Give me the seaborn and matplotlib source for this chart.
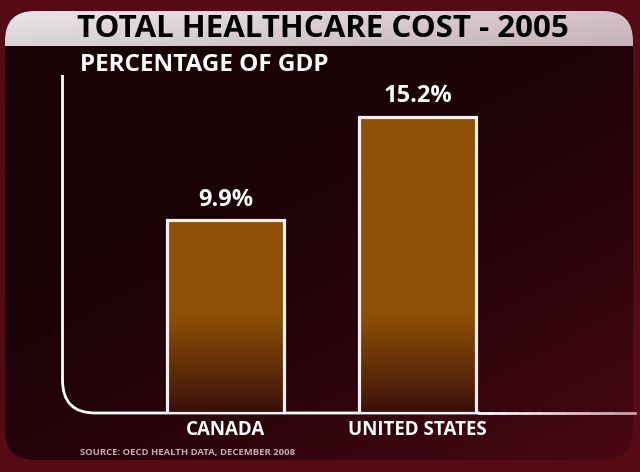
import numpy as np
import pandas as pd
import seaborn as sns
import matplotlib.pyplot as plt
from matplotlib.patches import FancyBboxPatch
from matplotlib.path import Path
from matplotlib.patches import PathPatch
from matplotlib.collections import LineCollection

# data
countries = ["CANADA", "UNITED STATES"]
pct_gdp = [9.9, 15.2]
title = "TOTAL HEALTHCARE COST - 2005"
subtitle = "PERCENTAGE OF GDP"
source = "SOURCE: OECD HEALTH DATA, DECEMBER 2008"

sns.set_style("white")
plt.rcParams["font.family"] = ["Open Sans", "DejaVu Sans"]

df = pd.DataFrame({"country": countries, "pct": pct_gdp})

fig = plt.figure(figsize=(6.4, 4.72), dpi=100)
fig.patch.set_facecolor("#550a16")

# background layer in pixel coordinates
bg = fig.add_axes([0, 0, 1, 1], zorder=0)
bg.set_xlim(0, 640)
bg.set_ylim(472, 0)
bg.axis("off")

panel = FancyBboxPatch((5, 11), 628, 449, boxstyle="round,pad=0,rounding_size=30",
                       facecolor="none", edgecolor="none")
bg.add_patch(panel)

# dark maroon panel, lighter towards bottom right
gx, gy = np.meshgrid(np.linspace(0, 1, 200), np.linspace(0, 1, 150))
t = np.clip((gx * 0.55 + gy * 0.75) - 0.35, 0, 1) ** 1.6
dark = np.array([24, 2, 6]) / 255
light = np.array([78, 8, 20]) / 255
img = dark + t[..., None] * (light - dark)
im = bg.imshow(img, extent=(5, 633, 460, 11), aspect="auto", zorder=1)
im.set_clip_path(panel)

# light title band at the top of the panel
bx = np.linspace(0, 1, 200)
by = np.linspace(0, 1, 30)
BX, BY = np.meshgrid(bx, by)
top_l = np.array([236, 230, 232]) / 255
top_r = np.array([214, 194, 199]) / 255
band = top_l + BX[..., None] * (top_r - top_l)
band = band * (1 - 0.08 * BY[..., None])
imb = bg.imshow(band, extent=(5, 633, 46, 11), aspect="auto", zorder=2)
imb.set_clip_path(panel)

bg.text(323, 29, title, ha="center", va="center", fontsize=22.5,
        fontweight="bold", color="black", zorder=5)
bg.text(80, 65, subtitle, ha="left", va="center", fontsize=17.5,
        fontweight="bold", color="white", zorder=5)
bg.text(80, 453, source, ha="left", va="center", fontsize=6.8,
        fontweight="bold", color="#c9aab0", zorder=5)

# curved axis line
verts = [(62.5, 75), (62.5, 380), (62.5, 413), (95, 413), (480, 413)]
codes = [Path.MOVETO, Path.LINETO, Path.CURVE3, Path.CURVE3, Path.LINETO]
bg.add_patch(PathPatch(Path(verts, codes), facecolor="none", edgecolor="white",
                       lw=2.0, zorder=4, capstyle="butt"))
xs = np.linspace(479, 635, 14)
segs = [[(xs[i], 413), (xs[i + 1], 413)] for i in range(len(xs) - 1)]
fade = np.linspace(0, 1, len(segs))[:, None]
cols = np.array([1, 1, 1]) + fade * (np.array([200, 160, 168]) / 255 - 1)
bg.add_collection(LineCollection(segs, colors=cols, lw=2.0, zorder=4,
                                 capstyle="projecting"))

# chart axes
ax = fig.add_axes([62 / 640, (472 - 413) / 472, (635 - 62) / 640, (413 - 75) / 472], zorder=2)
ax.patch.set_alpha(0)
sns.barplot(data=df, x="country", y="pct", width=0.61, ax=ax,
            color="#8c4e05", edgecolor="#f4f0f0", linewidth=2.3)
ymax = (413 - 75) / 19.5

# vertical orange-to-dark gradient inside bars
yy = np.linspace(0, ymax, 300)[:, None]
tt = np.clip(yy / 5.0, 0, 1) ** 0.9
orange = np.array([142, 80, 5]) / 255
bot = np.array([55, 13, 12]) / 255
grad = bot + tt[..., None] * (orange - bot)
grad = np.repeat(grad, 2, axis=1)
for p in ax.patches:
    p.set_facecolor("none")
    p.set_zorder(3)
    gi = ax.imshow(grad, extent=(-0.852, 2.133, 0, ymax), origin="lower",
                   aspect="auto", zorder=2)
    gi.set_clip_path(p)

ax.set_xlim(-0.852, 2.133)
ax.set_ylim(0, ymax)

ax.bar_label(ax.containers[0], labels=[f"{v:.1f}%" for v in pct_gdp], padding=6,
             fontsize=17, fontweight="bold", color="white")

for s in ax.spines.values():
    s.set_visible(False)
ax.set_xlabel("")
ax.set_ylabel("")
ax.set_yticks([])
ax.tick_params(axis="x", length=0, pad=5, labelsize=13.5, labelcolor="white")
for lbl in ax.get_xticklabels():
    lbl.set_fontweight("bold")

fig.savefig("out.png", dpi=100, facecolor=fig.get_facecolor())
